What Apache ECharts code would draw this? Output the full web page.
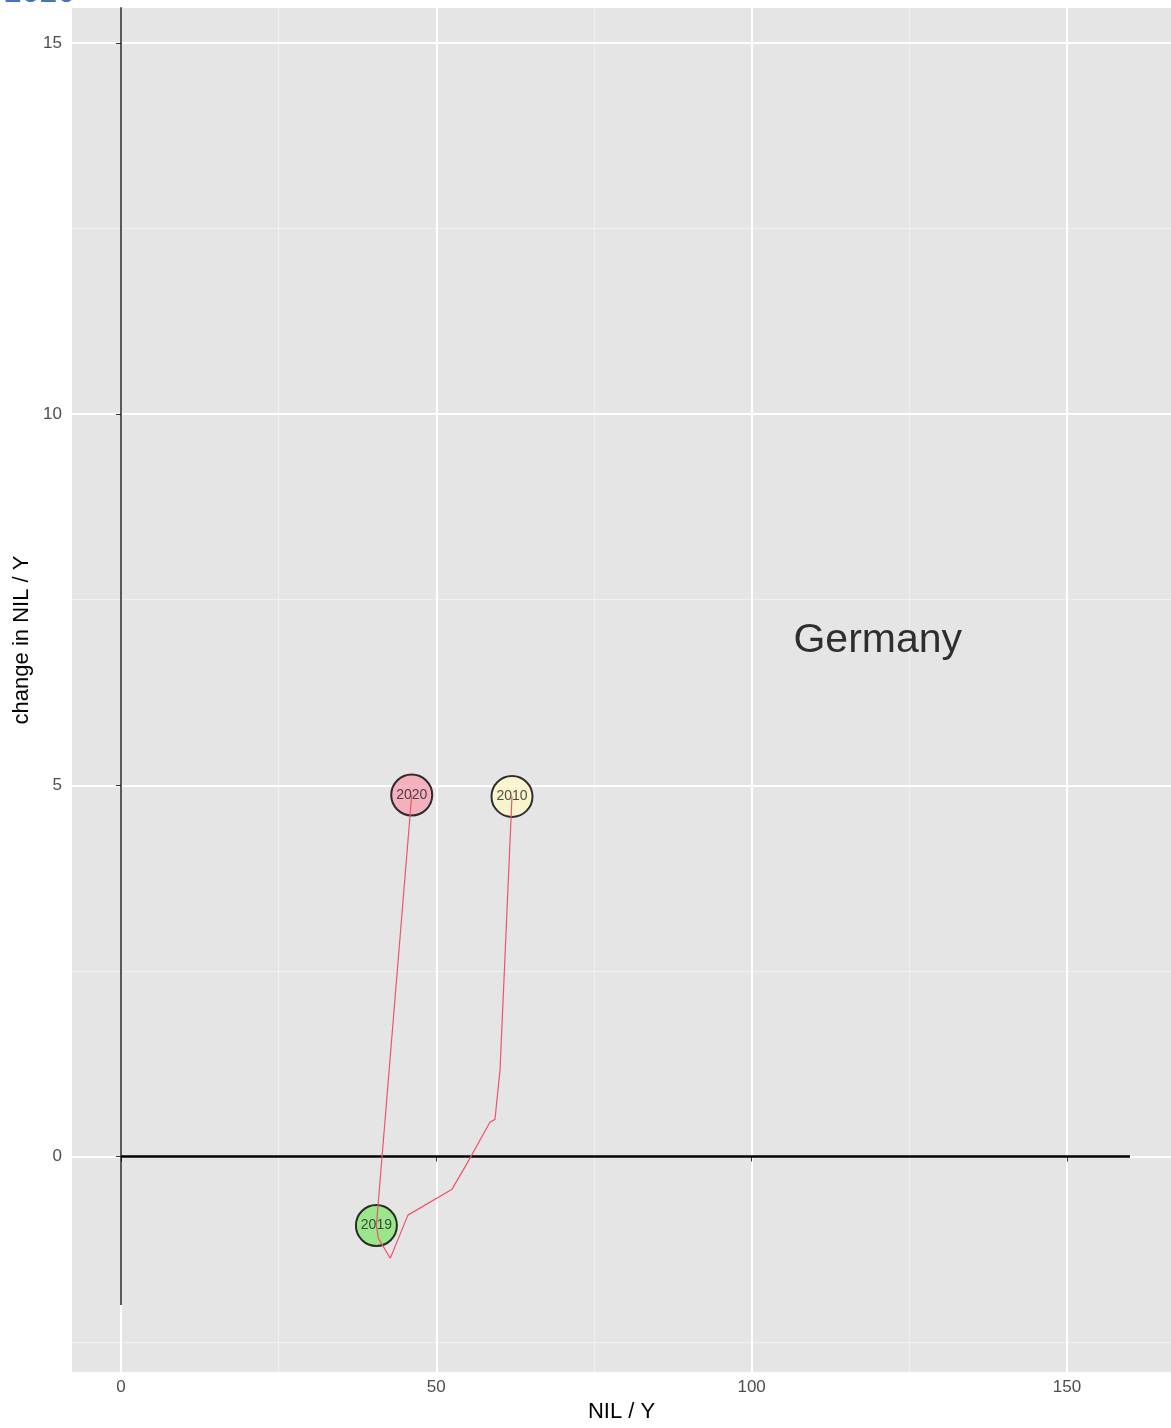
<!DOCTYPE html>
<html><head><meta charset="utf-8">
<script src="https://cdn.jsdelivr.net/npm/echarts@6/dist/echarts.min.js"></script>
<style>html,body{margin:0;padding:0;background:#fff}#c{width:1171px;height:1428px}</style>
</head><body><div id="c"></div>
<script>
// ---- data ----
const years = ['2010','2011','2012','2013','2014','2015','2016','2017','2018','2019','2020'];
const nilY = [62.0, 60.1, 59.3, 58.5, 54.9, 52.5, 45.5, 42.7, 40.8, 40.5, 46.1];
const changeNilY = [4.85, 1.16, 0.50, 0.46, -0.09, -0.44, -0.79, -1.37, -1.10, -0.93, 4.87];
const highlightYears = ['2010', '2019', '2020'];
const highlightColors = ['#FFF8C8', '#88E676', '#F8A2B3'];
const xTicks = [0, 50, 100, 150];
const xMinorTicks = [25, 75, 125];
const yTicks = [0, 5, 10, 15];
const yMinorTicks = [-2.5, 2.5, 7.5, 12.5];
const zeroLineX = [0, 160];   // horizontal reference line y=0
const zeroLineY = [-2, 16];   // vertical reference line x=0
const countryName = 'Germany';
const countryPos = [120, 6.95];
const pageTitle = '2020';

// ---- build ----
const FONT = 'Liberation Sans, Arial, sans-serif';
const pathData = nilY.map((x, i) => [x, changeNilY[i]]);
const pointData = highlightYears.map((y, k) => {
  const i = years.indexOf(y);
  return { value: [nilY[i], changeNilY[i]], name: y, itemStyle: { color: highlightColors[k] } };
});
const minorStyle = { color: '#F1F1F1', width: 1, type: 'solid' };
const majorStyle = { color: '#FFFFFF', width: 2, type: 'solid' };

const chart = echarts.init(document.getElementById('c'));
chart.setOption({
  animation: false,
  backgroundColor: '#FFFFFF',
  textStyle: { fontFamily: FONT },
  grid: { left: 72, top: 8, right: 0, bottom: 53, show: true, backgroundColor: '#E5E5E5', borderWidth: 0 },
  xAxis: {
    type: 'value', min: -7.77, max: 166.5,
    name: 'NIL / Y', nameLocation: 'middle', nameGap: 29,
    nameTextStyle: { color: '#000', fontSize: 22, fontFamily: FONT },
    splitLine: { show: false }, axisLine: { show: false },
    axisTick: { show: true, length: 5, lineStyle: { color: '#333', width: 1 }, customValues: xTicks },
    axisLabel: { customValues: xTicks, margin: 7, color: '#4D4D4D', fontSize: 17, fontFamily: FONT }
  },
  yAxis: {
    type: 'value', min: -2.903, max: 15.47,
    splitLine: { show: false }, axisLine: { show: false },
    axisTick: { show: true, length: 5, lineStyle: { color: '#333', width: 1 }, customValues: yTicks },
    axisLabel: { customValues: yTicks, margin: 10, color: '#4D4D4D', fontSize: 17, fontFamily: FONT }
  },
  graphic: [
    { type: 'text', x: 4, y: 9, style: { text: pageTitle, fontSize: 32, fill: '#4472C4', verticalAlign: 'bottom', fontFamily: FONT } },
    { type: 'text', x: 22, y: 640, rotation: Math.PI / 2, style: { text: 'change in NIL / Y', fontSize: 22, fill: '#000', align: 'center', verticalAlign: 'middle', fontFamily: FONT } }
  ],
  series: [
    {
      type: 'line', z: 0, symbol: 'none', silent: true,
      data: [[0, 0]], lineStyle: { opacity: 0 },
      markLine: {
        silent: true, symbol: 'none', label: { show: false }, z: 0,
        lineStyle: { type: 'solid' },
        data: [
          ...xMinorTicks.map(v => ({ xAxis: v, lineStyle: minorStyle })),
          ...yMinorTicks.map(v => ({ yAxis: v, lineStyle: minorStyle })),
          ...xTicks.map(v => ({ xAxis: v, lineStyle: majorStyle })),
          ...yTicks.map(v => ({ yAxis: v, lineStyle: majorStyle }))
        ]
      }
    },
    {
      type: 'line', z: 10, symbol: 'none', silent: true,
      data: zeroLineX.map(x => [x, 0]), lineStyle: { color: '#000', width: 2.4, type: 'solid' }
    },
    {
      type: 'line', z: 10, symbol: 'none', silent: true,
      data: zeroLineY.map(y => [0, y]), lineStyle: { color: '#000', width: 1.3, type: 'solid' }
    },
    {
      type: 'scatter', z: 11, symbolSize: 41,
      data: pointData,
      itemStyle: { borderColor: '#000', borderWidth: 2 },
      label: { show: true, position: 'inside', formatter: p => p.name, color: '#222', fontSize: 14, fontFamily: FONT }
    },
    {
      type: 'line', z: 12, symbol: 'none', silent: true,
      data: pathData, lineStyle: { color: '#EE5566', width: 1.2, type: 'solid' }
    },
    {
      type: 'scatter', z: 13, symbolSize: 1, silent: true,
      data: [{ value: countryPos, name: countryName }],
      itemStyle: { color: 'rgba(0,0,0,0)' },
      label: { show: true, position: 'inside', formatter: p => p.name, color: '#000', fontSize: 41, fontFamily: FONT }
    }
  ]
});
</script>
</body></html>
